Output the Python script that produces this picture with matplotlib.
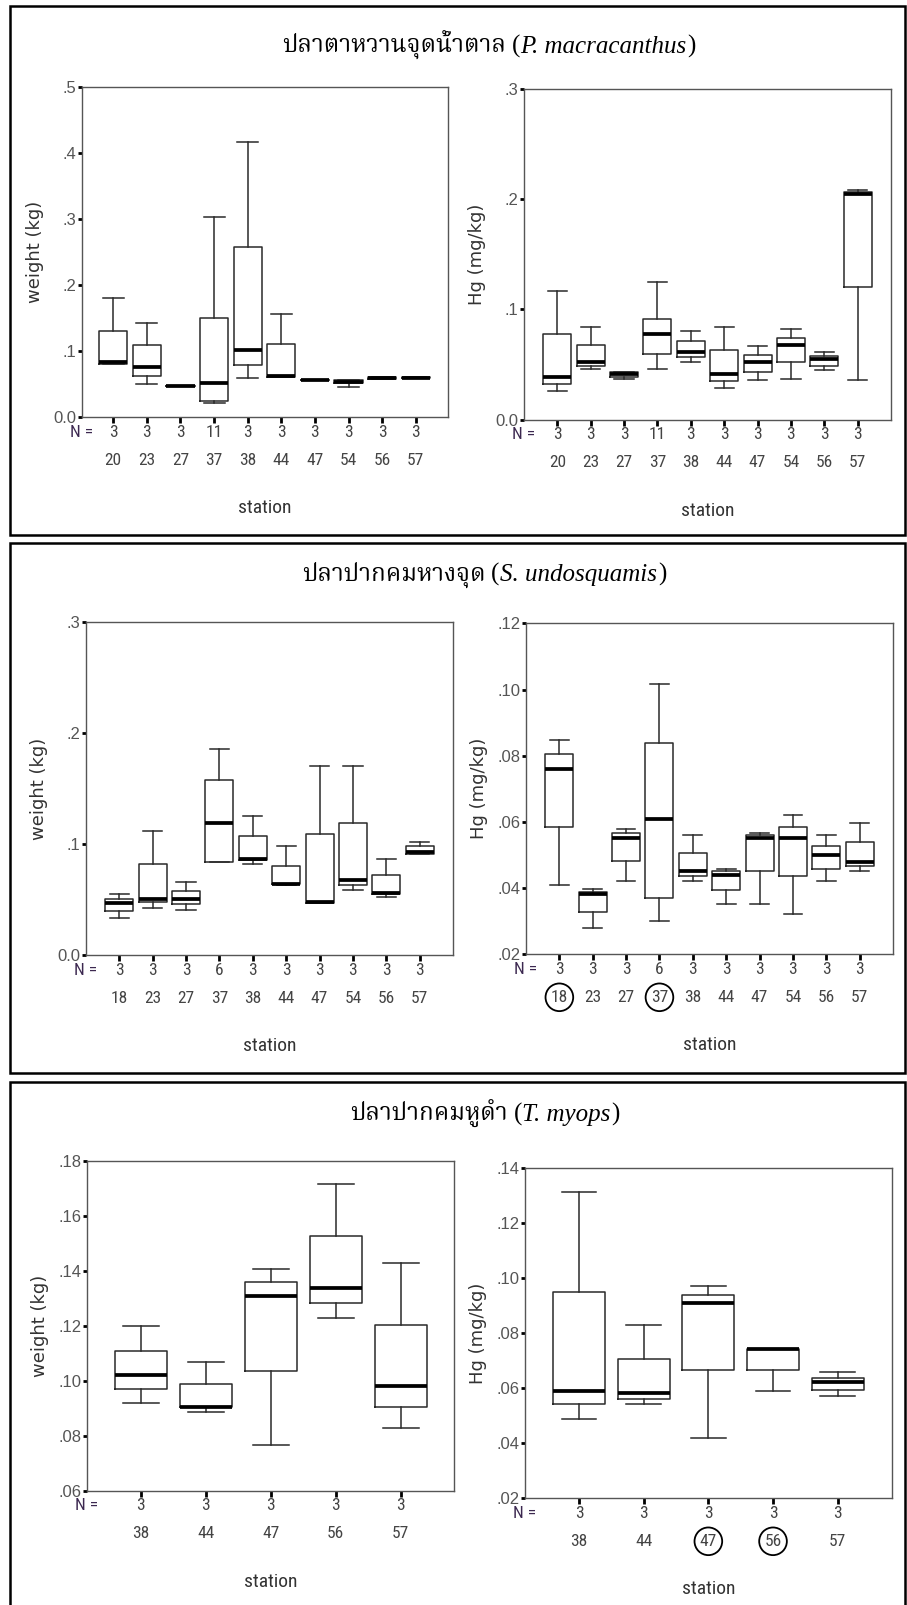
import matplotlib
matplotlib.use('Agg')
import matplotlib.pyplot as plt
from matplotlib import font_manager
from matplotlib.ft2font import FT2Font
from matplotlib.patches import Rectangle

W, H = 907, 1605
SERIF = ['Liberation Serif', 'DejaVu Serif']

# P. macracanthus
pm_stations = ['20', '23', '27', '37', '38', '44', '47', '54', '56', '57']
pm_n = [3, 3, 3, 11, 3, 3, 3, 3, 3, 3]
pm_wt_lo = [0.080, 0.050, 0.047, 0.022, 0.059, 0.061, 0.056, 0.0465, 0.058, 0.059]
pm_wt_q1 = [0.081, 0.063, 0.047, 0.025, 0.079, 0.0615, 0.056, 0.0525, 0.058, 0.059]
pm_wt_med = [0.083, 0.076, 0.048, 0.0515, 0.1015, 0.063, 0.057, 0.054, 0.0595, 0.060]
pm_wt_q3 = [0.131, 0.109, 0.048, 0.151, 0.2585, 0.1106, 0.057, 0.0566, 0.0605, 0.061]
pm_wt_hi = [0.181, 0.142, 0.048, 0.303, 0.416, 0.157, 0.057, 0.0566, 0.0605, 0.061]
pm_hg_lo = [0.0256, 0.0456, 0.0368, 0.0456, 0.0523, 0.0289, 0.0356, 0.0368, 0.0447, 0.0356]
pm_hg_q1 = [0.032, 0.049, 0.039, 0.0598, 0.0565, 0.0353, 0.0432, 0.052, 0.0489, 0.1202]
pm_hg_med = [0.039, 0.052, 0.0414, 0.0775, 0.061, 0.0417, 0.0523, 0.0677, 0.0547, 0.2047]
pm_hg_q3 = [0.0775, 0.0677, 0.0429, 0.091, 0.071, 0.0635, 0.0586, 0.0744, 0.058, 0.2065]
pm_hg_hi = [0.1165, 0.0844, 0.0429, 0.1244, 0.080, 0.0844, 0.0665, 0.0823, 0.061, 0.2086]

# S. undosquamis
su_stations = ['18', '23', '27', '37', '38', '44', '47', '54', '56', '57']
su_n = [3, 3, 3, 6, 3, 3, 3, 3, 3, 3]
su_wt_lo = [0.0336, 0.0426, 0.0412, 0.0845, 0.0826, 0.0635, 0.0475, 0.0589, 0.0526, 0.0917]
su_wt_q1 = [0.040, 0.0477, 0.046, 0.0845, 0.0856, 0.064, 0.0475, 0.0634, 0.0556, 0.0917]
su_wt_med = [0.0471, 0.0511, 0.0505, 0.1195, 0.0871, 0.0646, 0.048, 0.0679, 0.0565, 0.0932]
su_wt_q3 = [0.0511, 0.082, 0.0577, 0.158, 0.1075, 0.0808, 0.1096, 0.1195, 0.0723, 0.0986]
su_wt_hi = [0.0552, 0.1117, 0.0664, 0.186, 0.1255, 0.0986, 0.1705, 0.1705, 0.0871, 0.102]
su_hg_lo = [0.041, 0.028, 0.0421, 0.030, 0.0421, 0.0351, 0.0351, 0.0322, 0.0421, 0.0451]
su_hg_q1 = [0.0584, 0.0329, 0.0483, 0.0369, 0.0437, 0.0394, 0.0451, 0.0437, 0.0458, 0.0468]
su_hg_med = [0.076, 0.0382, 0.0551, 0.061, 0.0451, 0.044, 0.0552, 0.0552, 0.0499, 0.048]
su_hg_q3 = [0.0804, 0.0388, 0.0566, 0.0837, 0.0505, 0.0451, 0.056, 0.0584, 0.0528, 0.0538]
su_hg_hi = [0.0847, 0.0398, 0.058, 0.1018, 0.056, 0.0458, 0.0567, 0.062, 0.056, 0.0598]
su_hg_circled = ['18', '37']

# T. myops
tm_stations = ['38', '44', '47', '56', '57']
tm_n = [3, 3, 3, 3, 3]
tm_wt_lo = [0.0918, 0.0887, 0.0767, 0.1227, 0.0829]
tm_wt_q1 = [0.097, 0.0903, 0.1036, 0.1284, 0.0905]
tm_wt_med = [0.1021, 0.0905, 0.1307, 0.1337, 0.0981]
tm_wt_q3 = [0.1107, 0.0989, 0.136, 0.1527, 0.1203]
tm_wt_hi = [0.12, 0.1068, 0.1406, 0.1718, 0.1427]
tm_hg_lo = [0.0487, 0.0541, 0.042, 0.059, 0.0572]
tm_hg_q1 = [0.0541, 0.056, 0.0666, 0.0666, 0.0593]
tm_hg_med = [0.059, 0.0581, 0.0909, 0.0741, 0.0621]
tm_hg_q3 = [0.0948, 0.0705, 0.0939, 0.0742, 0.0638]
tm_hg_hi = [0.1311, 0.0829, 0.0971, 0.0742, 0.066]
tm_hg_circled = ['47', '56']

# y axis ticks
ticks_0_5 = [0.0, 0.1, 0.2, 0.3, 0.4, 0.5]
labels_0_5 = ['0.0', '.1', '.2', '.3', '.4', '.5']
ticks_0_3 = [0.0, 0.1, 0.2, 0.3]
labels_0_3 = ['0.0', '.1', '.2', '.3']
ticks_02_12 = [0.02, 0.04, 0.06, 0.08, 0.10, 0.12]
labels_02_12 = ['.02', '.04', '.06', '.08', '.10', '.12']
ticks_06_18 = [0.06, 0.08, 0.10, 0.12, 0.14, 0.16, 0.18]
labels_06_18 = ['.06', '.08', '.10', '.12', '.14', '.16', '.18']
ticks_02_14 = [0.02, 0.04, 0.06, 0.08, 0.10, 0.12, 0.14]
labels_02_14 = ['.02', '.04', '.06', '.08', '.10', '.12', '.14']

titles_thai = ['ปลาตาหวานจุดน้ำตาล', 'ปลาปากคมหางจุด', 'ปลาปากคมหูดำ']
titles_species = ['P. macracanthus', 'S. undosquamis', 'T. myops']


def thai_font():
    found = []
    for f in font_manager.fontManager.ttflist:
        try:
            if 0x0E1B in FT2Font(f.fname).get_charmap():
                found.append(f.name)
        except Exception:
            continue
    for p in ['serif thai', 'norasi', 'kinnari', 'laksaman', 'garuda', 'loma', 'thai']:
        for name in found:
            if p in name.lower():
                return name
    return found[0] if found else None


thai = thai_font()
THAI = ([thai] if thai else []) + SERIF
names = {f.name for f in font_manager.fontManager.ttflist}
narrow = next((n for n in ['Liberation Sans Narrow', 'Arial Narrow', 'Roboto Condensed',
                           'Open Sans Condensed', 'Noto Sans Condensed'] if n in names), None)
NARROW = ([narrow] if narrow else []) + ['Liberation Sans', 'DejaVu Sans']
NSIZE = 12.5 if narrow else 11.5

fig = plt.figure(figsize=(W / 100, H / 100), dpi=100)


def add_axes(x0, y0, x1, y1):
    return fig.add_axes([x0 / W, 1 - y1 / H, (x1 - x0) / W, (y1 - y0) / H])


def under(ax, xy, coords, s, dy, **kw):
    return ax.annotate(s, xy=xy, xycoords=coords, xytext=(0, -dy), textcoords='offset pixels',
                       ha='center', va='center', **kw)


def boxplot(ax, stations, n, lo, q1, med, q3, hi, yticks, ylabels, ylabel, xlim,
            width, capwidth, circled=()):
    pos = list(range(1, len(stations) + 1))
    stats = [dict(whislo=a, q1=b, med=c, q3=d, whishi=e, fliers=[])
             for a, b, c, d, e in zip(lo, q1, med, q3, hi)]
    line = dict(color='#2a2a2a', lw=1.1)
    ax.bxp(stats, positions=pos, widths=width, capwidths=capwidth, showfliers=False,
           manage_ticks=False, boxprops=line, whiskerprops=line, capprops=line,
           medianprops=dict(color='black', lw=2.7, solid_capstyle='butt'))
    ax.set_xlim(*xlim)
    ax.set_ylim(yticks[0], yticks[-1])
    ax.set_xticks(pos)
    ax.set_yticks(yticks)
    ax.set_yticklabels(ylabels, fontfamily='Liberation Sans')
    ax.tick_params(axis='x', length=4, width=2, color='black', labelbottom=False)
    ax.tick_params(axis='y', length=3, width=2, color='black', pad=1, labelsize=12,
                   labelcolor='#555555')
    for sp in ax.spines.values():
        sp.set_color('#555555')
        sp.set_linewidth(1)
    ax.set_ylabel(ylabel, fontfamily='DejaVu Sans', fontsize=13, color='#333333')
    ax.yaxis.set_label_coords(-38 / (ax.get_position().width * W), 0.5)
    for x, c, s in zip(pos, n, stations):
        under(ax, (x, 0), ('data', 'axes fraction'), str(c), 15,
              fontfamily=NARROW, fontsize=NSIZE, color='#444444')
        bbox = dict(boxstyle='circle,pad=0.3', fc='none', ec='black', lw=1.3) if s in circled else None
        under(ax, (x, 0), ('data', 'axes fraction'), s, 43,
              fontfamily=NARROW, fontsize=NSIZE, color='#444444', bbox=bbox)
    under(ax, (0, 0), 'axes fraction', 'N =', 15, fontfamily=NARROW, fontsize=NSIZE,
          color='#3c2850')
    under(ax, (0.5, 0), 'axes fraction', 'station', 91, fontfamily=NARROW,
          fontsize=NSIZE + 1.5, color='#333333')


def draw_title(cx, y, th, sp):
    pieces = [(th, dict(fontfamily=THAI, fontsize=17.5)),
              ('(', dict(fontfamily=SERIF, fontsize=18)),
              (sp, dict(fontfamily=SERIF, fontsize=18, style='italic')),
              (')', dict(fontfamily=SERIF, fontsize=18))]
    gaps = [6, 0, 1, 0]
    texts = [fig.text(0, 1 - y / H, s, ha='left', va='baseline', color='black', **kw)
             for s, kw in pieces]
    r = fig.canvas.get_renderer()
    widths = [t.get_window_extent(r).width for t in texts]
    x = cx - (sum(widths) + sum(gaps)) / 2
    for t, w, g in zip(texts, widths, gaps):
        t.set_x(x / W)
        x += w + g


# panel borders
for y0, y1 in [(6, 535), (543, 1073), (1082, 1615)]:
    fig.add_artist(Rectangle((9.5 / W, 1 - y1 / H), (905 - 9.5) / W, (y1 - y0) / H,
                             transform=fig.transFigure, fill=False, ec='black', lw=1.8))

ax = add_axes(82, 87, 448, 417.3)
boxplot(ax, pm_stations, pm_n, pm_wt_lo, pm_wt_q1, pm_wt_med, pm_wt_q3, pm_wt_hi,
        ticks_0_5, labels_0_5, 'weight (kg)', (0.07, 10.96), 0.84, 0.62)
ax = add_axes(524, 89, 891, 419.5)
boxplot(ax, pm_stations, pm_n, pm_hg_lo, pm_hg_q1, pm_hg_med, pm_hg_q3, pm_hg_hi,
        ticks_0_3, labels_0_3, 'Hg (mg/kg)', (0, 11), 0.84, 0.58)

ax = add_axes(86, 622.3, 453, 955.3)
boxplot(ax, su_stations, su_n, su_wt_lo, su_wt_q1, su_wt_med, su_wt_q3, su_wt_hi,
        ticks_0_3, labels_0_3, 'weight (kg)', (0, 11), 0.84, 0.58)
ax = add_axes(526, 623.3, 893, 954.3)
boxplot(ax, su_stations, su_n, su_hg_lo, su_hg_q1, su_hg_med, su_hg_q3, su_hg_hi,
        ticks_02_12, labels_02_12, 'Hg (mg/kg)', (0, 11), 0.84, 0.56, su_hg_circled)

ax = add_axes(87, 1161, 454, 1490.7)
boxplot(ax, tm_stations, tm_n, tm_wt_lo, tm_wt_q1, tm_wt_med, tm_wt_q3, tm_wt_hi,
        ticks_06_18, labels_06_18, 'weight (kg)', (0.17, 5.82), 0.8, 0.55)
ax = add_axes(525, 1167.7, 891.7, 1498.3)
boxplot(ax, tm_stations, tm_n, tm_hg_lo, tm_hg_q1, tm_hg_med, tm_hg_q3, tm_hg_hi,
        ticks_02_14, labels_02_14, 'Hg (mg/kg)', (0.165, 5.835), 0.8, 0.54, tm_hg_circled)

for cx, y, th, sp in zip([489, 484, 485], [53, 581, 1121], titles_thai, titles_species):
    draw_title(cx, y, th, sp)

fig.savefig('out.png', dpi=100, facecolor='white')
